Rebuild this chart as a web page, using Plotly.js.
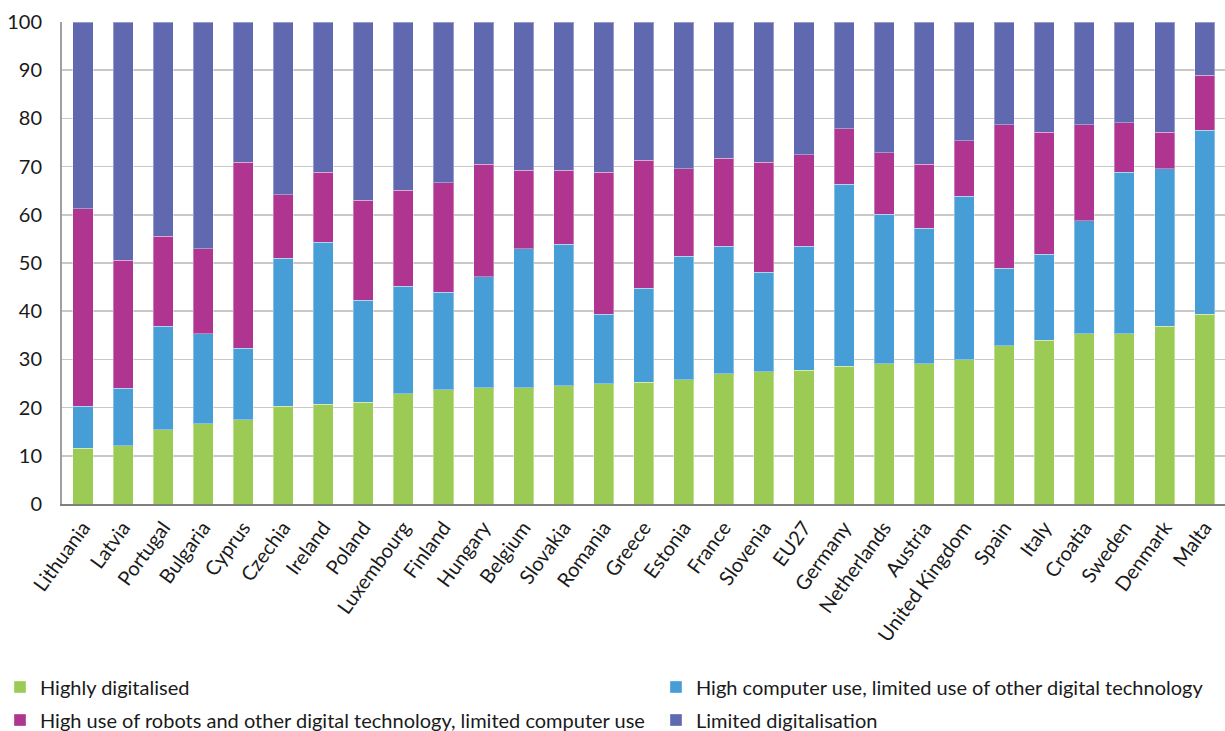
<!DOCTYPE html>
<html>
<head>
<meta charset="utf-8">
<script src="https://cdn.plot.ly/plotly-3.0.1.min.js"></script>
<style>html,body{margin:0;padding:0;background:#fff;}#chart{width:1225px;height:731px;}</style>
</head>
<body>
<div id="chart"></div>
<script>
const countries = ["Lithuania","Latvia","Portugal","Bulgaria","Cyprus","Czechia","Ireland","Poland","Luxembourg","Finland","Hungary","Belgium","Slovakia","Romania","Greece","Estonia","France","Slovenia","EU27","Germany","Netherlands","Austria","United Kingdom","Spain","Italy","Croatia","Sweden","Denmark","Malta"];
const highlyDigitalised = [11.6,12.1,15.4,16.6,17.5,20.3,20.7,21.1,22.9,23.7,24.1,24.1,24.5,24.9,25.3,25.8,27.0,27.4,27.8,28.6,29.1,29.1,29.9,32.8,34.0,35.3,35.3,36.9,39.4];
const highComputerUse = [8.7,11.9,21.5,18.7,14.8,30.7,33.6,21.2,22.3,20.2,23.1,28.9,29.4,14.5,19.5,25.6,26.5,20.7,25.7,37.7,31.0,28.1,33.9,16.1,17.8,23.5,33.5,32.7,38.1];
const highRobotsUse = [41.0,26.6,18.6,17.7,38.6,13.2,14.5,20.7,19.9,22.8,23.3,16.2,15.3,29.4,26.5,18.2,18.2,22.8,19.0,11.6,12.8,13.3,11.6,29.8,25.3,19.9,10.3,7.5,11.5];
const limitedDigitalisation = [38.7,49.4,44.5,47.0,29.1,35.8,31.2,37.0,34.9,33.3,29.5,30.8,30.8,31.2,28.7,30.4,28.3,29.1,27.5,22.1,27.1,29.5,24.6,21.3,22.9,21.3,20.9,22.9,11.0];
const seriesNames = ["Highly digitalised","High computer use, limited use of other digital technology","High use of robots and other digital technology, limited computer use","Limited digitalisation"];
const seriesColors = ["#9bcb54","#479dd6","#b03590","#6068b0"];
const yTicks = [0,10,20,30,40,50,60,70,80,90,100];

const values = [highlyDigitalised, highComputerUse, highRobotsUse, limitedDigitalisation];
const legendIds = ['legend','legend2','legend3','legend4'];
const traces = values.map((v,i)=>({
  type:'bar', x:countries, y:v, name:seriesNames[i], legend:legendIds[i],
  marker:{color:seriesColors[i], line:{width:1, color:'rgba(255,255,255,0.35)'}},
  hoverinfo:'x+y+name'
}));

const legBase = {orientation:'v', xref:'container', yref:'container', xanchor:'left', yanchor:'middle',
  font:{size:20, color:'#1a1a1a'}, bgcolor:'rgba(0,0,0,0)', borderwidth:0};
const layout = {
  width:1225, height:731,
  margin:{l:62, r:0, t:22, b:227, autoexpand:false},
  barmode:'stack', bargap:0.5,
  paper_bgcolor:'#fff', plot_bgcolor:'#fff',
  font:{family:'Lato, "Noto Sans", sans-serif', size:20, color:'#1a1a1a'},
  showlegend:true,
  legend: Object.assign({}, legBase, {x:0.0, y:0.0602}),
  legend2: Object.assign({}, legBase, {x:0.5355, y:0.0602}),
  legend3: Object.assign({}, legBase, {x:0.0, y:0.0150}),
  legend4: Object.assign({}, legBase, {x:0.5355, y:0.0150}),
  xaxis:{type:'category', tickangle:-54, showgrid:false, showline:true, linecolor:'#7f7f7f', linewidth:2,
    ticks:'', tickfont:{size:20}, range:[-0.524,28.51], automargin:false, ticklabelstandoff:2},
  yaxis:{range:[0,100], tickvals:yTicks, showgrid:true, gridcolor:'#c8c8c8', gridwidth:1.5,
    showline:true, linecolor:'#a0a0a0', linewidth:2, ticks:'', zeroline:false,
    tickfont:{size:20}, ticklabelstandoff:14, automargin:false}
};
Plotly.newPlot('chart', traces, layout, {displayModeBar:false, staticPlot:true});
</script>
</body>
</html>
